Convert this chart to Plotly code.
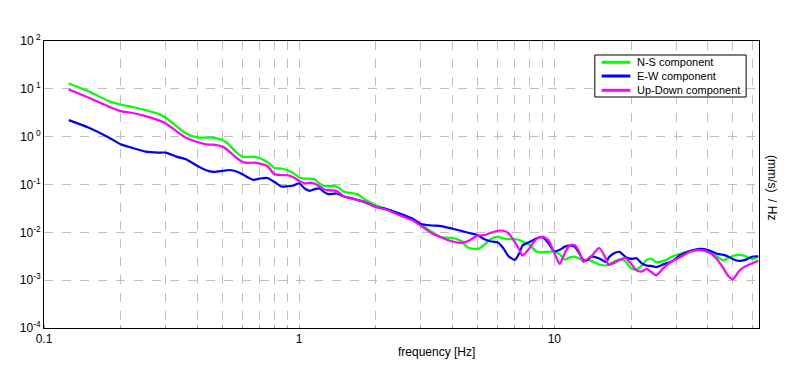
import plotly.graph_objects as go

# Frequency samples (Hz)
freq = [0.125, 0.15, 0.18, 0.2, 0.22, 0.25, 0.28, 0.3, 0.33, 0.36, 0.4, 0.43, 0.46, 0.5,
        0.53, 0.56, 0.6, 0.63, 0.66, 0.7, 0.75, 0.8, 0.85, 0.9, 0.95, 1.0, 1.05, 1.1, 1.15,
        1.2, 1.25, 1.3, 1.4, 1.5, 1.6, 1.7, 1.8, 2.0, 2.2, 2.5, 2.8, 3.0, 3.3, 3.6, 4.0,
        4.3, 4.6, 5.0, 5.3, 5.6, 6.0, 6.3, 6.6, 7.0, 7.3, 7.5, 8.0, 8.5, 9.0, 9.5, 10.0,
        10.5, 11.0, 11.5, 12.0, 12.5, 13.0, 13.5, 14.0, 15.0, 16.0, 16.3, 17.0, 18.0, 19.0,
        20.0, 21.0, 22.0, 23.0, 24.0, 25.0, 27.0, 29.0, 31.0, 34.0, 37.0, 40.0, 43.0, 46.0,
        48.0, 50.0, 53.0, 56.0, 60.0, 63.0]

ns = [12.9, 8.79, 5.52, 4.71, 4.22, 3.58, 3.01, 2.49, 1.66, 1.17, 0.97, 0.953, 0.953, 0.85,
      0.69, 0.501, 0.383, 0.376, 0.383, 0.353, 0.296, 0.222, 0.216, 0.199, 0.172, 0.14, 0.133,
      0.133, 0.129, 0.105, 0.0935, 0.0935, 0.0909, 0.0701, 0.0659, 0.0628, 0.0494, 0.037,
      0.0306, 0.0244, 0.0189, 0.0149, 0.0103, 0.00798, 0.0076, 0.00659, 0.00478, 0.00449,
      0.00543, 0.00708, 0.0081, 0.00743, 0.00724, 0.00724, 0.00692, 0.00643, 0.00543,
      0.00398, 0.00383, 0.00393, 0.00398, 0.00345, 0.00271, 0.00301, 0.0031, 0.00284,
      0.00259, 0.00265, 0.00252, 0.00213, 0.00203, 0.0021, 0.0024, 0.00271, 0.00247,
      0.00174, 0.00166, 0.00203, 0.00265, 0.00283, 0.0024, 0.00256, 0.00313, 0.00355,
      0.00404, 0.00428, 0.00393, 0.00321, 0.00259, 0.00292, 0.00321, 0.00337, 0.00321,
      0.00278, 0.0031]

ew = [2.22, 1.54, 0.953, 0.69, 0.59, 0.487, 0.464, 0.464, 0.383, 0.337, 0.244, 0.201, 0.183,
      0.192, 0.201, 0.192, 0.164, 0.14, 0.125, 0.133, 0.137, 0.113, 0.0909, 0.092, 0.0953,
      0.106, 0.0825, 0.0736, 0.0798, 0.0825, 0.0701, 0.0628, 0.0649, 0.0562, 0.0518, 0.0471,
      0.0434, 0.0338, 0.0306, 0.0241, 0.0189, 0.0149, 0.0139, 0.0135, 0.0119, 0.0108, 0.0098,
      0.00879, 0.00724, 0.0065, 0.00613, 0.00471, 0.00321, 0.00265, 0.00371, 0.00531,
      0.00628, 0.00743, 0.00787, 0.00585, 0.00398, 0.0043, 0.00503, 0.00526, 0.00506,
      0.00371, 0.00259, 0.00265, 0.00313, 0.00283, 0.0024, 0.00292, 0.00358, 0.00391,
      0.00306, 0.00278, 0.00287, 0.00224, 0.00201, 0.00199, 0.00187, 0.00219, 0.00249,
      0.00329, 0.00404, 0.00449, 0.00428, 0.00362, 0.00337, 0.00312, 0.00278, 0.00252,
      0.00265, 0.00313, 0.00316]

ud = [9.67, 6.49, 4.22, 3.41, 3.16, 2.69, 2.22, 1.89, 1.31, 0.953, 0.772, 0.69, 0.681, 0.619,
      0.501, 0.383, 0.296, 0.282, 0.287, 0.274, 0.244, 0.164, 0.158, 0.156, 0.142, 0.119,
      0.106, 0.108, 0.105, 0.0909, 0.0798, 0.076, 0.0736, 0.0562, 0.0511, 0.0471, 0.0442,
      0.0338, 0.0296, 0.0222, 0.0175, 0.0137, 0.00967, 0.0078, 0.00643, 0.00604, 0.00659,
      0.00853, 0.00879, 0.00967, 0.0108, 0.0108, 0.00967, 0.00628, 0.00428, 0.00325,
      0.00471, 0.00724, 0.0081, 0.00675, 0.00371, 0.00219, 0.00371, 0.00536, 0.00543,
      0.00398, 0.0024, 0.00278, 0.00321, 0.00471, 0.00265, 0.00208, 0.00224, 0.00265,
      0.00292, 0.00219, 0.0016, 0.00152, 0.00172, 0.00148, 0.00126, 0.00187, 0.00252,
      0.00299, 0.00393, 0.00428, 0.00389, 0.00292, 0.00176, 0.00123, 0.00104, 0.00156,
      0.00194, 0.00229, 0.00256]

series_names = ["N-S component", "E-W component", "Up-Down component"]
series_colors = ["#00ff00", "#0000ff", "#ff00ff"]

x_tickvals = [0.1, 1.0, 10.0]
x_ticktext = ["0.1", "1", "10"]
y_tickvals = [1e-4, 1e-3, 1e-2, 1e-1, 1e0, 1e1, 1e2]
y_ticktext = ["10<sup>-4</sup>", "10<sup>-3</sup>", "10<sup>-2</sup>", "10<sup>-1</sup>",
              "10<sup> 0</sup>", "10<sup> 1</sup>", "10<sup> 2</sup>"]

FONT = "Liberation Sans, Arial, sans-serif"
GRID = "#c0c0c0"

fig = go.Figure()
for name, vals, col in zip(series_names, [ns, ew, ud], series_colors):
    fig.add_trace(go.Scatter(x=freq, y=vals, mode="lines", name=name, showlegend=False,
                             line=dict(color=col, width=2.2, shape="spline", smoothing=0.6)))

# hand-drawn legend box (paper coordinates)
shapes = [dict(type="rect", xref="paper", yref="paper", x0=0.7704, x1=0.982, y0=0.8049, y1=0.9512,
               line=dict(color="black", width=1), fillcolor="white", layer="above")]
annotations = []
legend_rows = [0.9258, 0.878, 0.8282]
for name, col, ry in zip(series_names, series_colors, legend_rows):
    shapes.append(dict(type="line", xref="paper", yref="paper", x0=0.780, x1=0.820, y0=ry, y1=ry,
                       line=dict(color=col, width=3), layer="above"))
    annotations.append(dict(text=name, xref="paper", yref="paper", x=0.8271, y=ry,
                            xanchor="left", yanchor="middle", showarrow=False,
                            font=dict(size=11, family=FONT, color="black")))

annotations += [
    dict(text="frequency [Hz]", xref="paper", yref="paper", x=0.549, y=-0.0836,
         xanchor="center", yanchor="middle", showarrow=False, font=dict(size=12)),
    dict(text="(mm/s)  / Hz", xref="paper", yref="paper", x=1.018, y=0.488,
         xanchor="center", yanchor="middle", textangle=90, showarrow=False,
         font=dict(size=12)),
]

fig.update_layout(
    width=788, height=362,
    margin=dict(l=28, r=37, t=33, b=42),
    paper_bgcolor="white", plot_bgcolor="white",
    font=dict(family=FONT, size=12, color="black"),
    showlegend=False,
    xaxis=dict(type="log", range=[-1, 1.802], tickvals=x_tickvals, ticktext=x_ticktext,
               showgrid=True, gridcolor=GRID, griddash="dash", gridwidth=1,
               ticks="", showline=True, linecolor="black", linewidth=1, mirror=True,
               zeroline=False, tickfont=dict(size=12),
               minor=dict(dtick="D1", showgrid=True, gridcolor=GRID, griddash="dash",
                          gridwidth=1, ticks="inside", ticklen=3, tickcolor="#a0a0a0")),
    yaxis=dict(type="log", range=[-4, 2], tickvals=y_tickvals, ticktext=y_ticktext,
               showgrid=True, gridcolor=GRID, griddash="dash", gridwidth=1,
               ticks="", showline=True, linecolor="black", linewidth=1, mirror=True,
               zeroline=False, tickfont=dict(size=12)),
    shapes=shapes,
    annotations=annotations,
)

fig.write_html("out.html")
